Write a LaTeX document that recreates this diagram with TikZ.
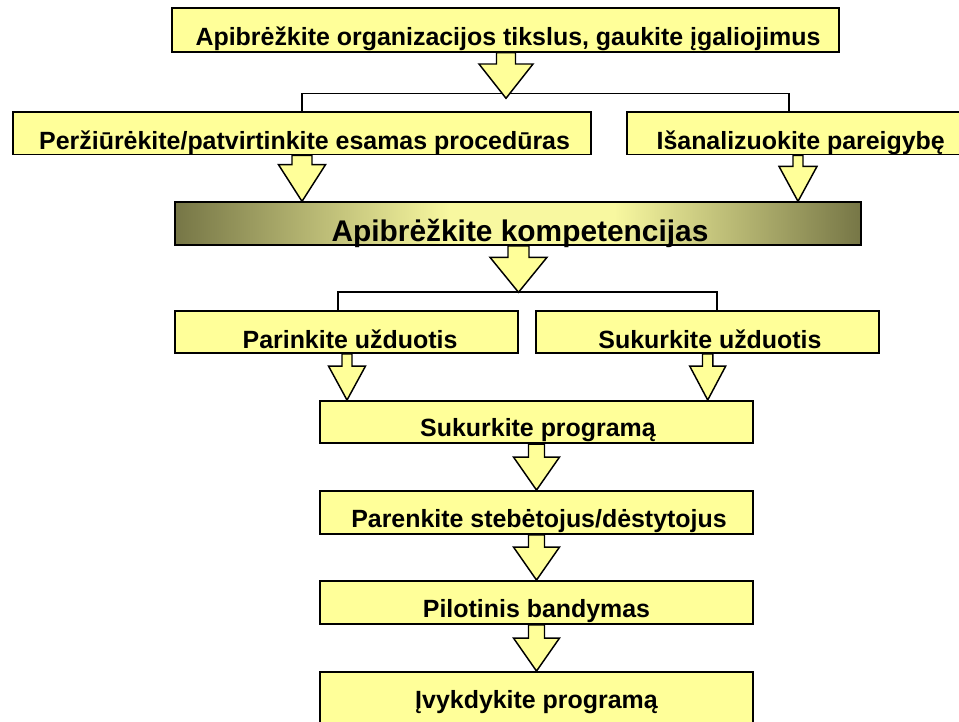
\documentclass[tikz,border=0pt]{standalone}
\usepackage{fontspec}
\setmainfont{Liberation Sans}
\usetikzlibrary{fit,calc}
\definecolor{boxyellow}{RGB}{255,255,153}
\definecolor{olivedk}{RGB}{118,118,70}
\definecolor{olivelt}{RGB}{248,248,160}
\pgfdeclarehorizontalshading{olivegrad}{100bp}{color(0bp)=(olivedk); color(25bp)=(olivedk); color(45bp)=(olivelt); color(57bp)=(olivelt); color(75bp)=(olivedk); color(100bp)=(olivedk)}
% #1 from node anchor, #2 to point, #3 x centre, #4 shaft half width, #5 head half width, #6 head length (px)
\newcommand\bkarrow[6]{%
  \draw[arr] let \p1=(#1), \p2=(#2) in
    ({(#3-#4)*0.75pt},\y1) -- ({(#3-#4)*0.75pt},{\y2+#6*0.75pt}) --
    ({(#3-#5)*0.75pt},{\y2+#6*0.75pt}) -- ({#3*0.75pt},\y2) --
    ({(#3+#5)*0.75pt},{\y2+#6*0.75pt}) -- ({(#3+#4)*0.75pt},{\y2+#6*0.75pt}) --
    ({(#3+#4)*0.75pt},\y1) -- cycle;}
\begin{document}
\begin{tikzpicture}[x=0.75pt,y=-0.75pt,
  box/.style={draw=black,line width=1.4pt,fill=boxyellow,inner sep=0pt},
  gbox/.style={draw=black,line width=1.4pt,shade,shading=olivegrad,shading angle=0,inner sep=0pt},
  lbl/.style={font=\bfseries\fontsize{18.7}{20}\selectfont,anchor=base,inner sep=0pt},
  biglbl/.style={font=\bfseries\fontsize{22.4}{24}\selectfont,anchor=base,inner sep=0pt},
  arr/.style={draw=black,line width=1.1pt,fill=boxyellow,line join=miter},
  bracket/.style={draw=black,line width=1.4pt}]
\useasboundingbox (0,0) rectangle (959,721);
\clip (0,0) rectangle (959,721);
% boxes
\node[box,fit={(172,8.3) (839,51.7)}] (b1) {};
\node[box,fit={(12.7,112) (590.7,154.5)}] (b2l) {};
\node[box,fit={(626.7,112) (975,154.5)}] (b2r) {};
\node[gbox,fit={(175,202.3) (861,245)}] (b3) {};
\node[box,fit={(175,310.7) (518.3,353)}] (b4l) {};
\node[box,fit={(536,310.7) (879,353)}] (b4r) {};
\node[box,fit={(320,401) (752.7,443.3)}] (b5) {};
\node[box,fit={(320,491) (752.7,534)}] (b6) {};
\node[box,fit={(320,581) (752.7,624)}] (b7) {};
\node[box,fit={(320,672) (752.7,740)}] (b8) {};
% junctions
\coordinate (j1) at (506,98.3);
\coordinate (k1l) at (301.7,93.5);
\coordinate (k1r) at (789,93.5);
\coordinate (j2) at (518.5,292.3);
\coordinate (k2l) at (337.7,292.3);
\coordinate (k2r) at (716.7,292.3);
% brackets
\draw[bracket] (k1l |- b2l.north) -- (k1l) -- (k1r) -- (k1r |- b2r.north);
\draw[bracket] (k2l |- b4l.north) -- (k2l) -- (k2r) -- (k2r |- b4r.north);
% block arrows
\bkarrow{b1.south}{j1}{506}{9.5}{27}{34.3}
\bkarrow{b2l.south}{b3.north}{302}{10}{23.5}{36.7}
\bkarrow{b2r.south}{b3.north}{798}{5}{19}{35}
\bkarrow{b3.south}{j2}{518.5}{10.5}{28.5}{35}
\bkarrow{b4l.south}{b5.north}{347}{5}{18.5}{34}
\bkarrow{b4r.south}{b5.north}{707.7}{5.2}{18}{34}
\bkarrow{b5.south}{b6.north}{536.5}{8}{23}{33}
\bkarrow{b6.south}{b7.north}{536.5}{8}{23}{33}
\bkarrow{b7.south}{b8.north}{536.5}{8}{23}{33}
% labels
\node[lbl] (t1) at (508,45) {Apibrėžkite organizacijos tikslus, gaukite įgaliojimus};
\node[lbl] (t2l) at (304.6,149) {Peržiūrėkite/patvirtinkite esamas procedūras};
\node[lbl] (t2r) at (800.7,149) {Išanalizuokite pareigybę};
\node[biglbl] (t3) at (520,241.7) {Apibrėžkite kompetencijas};
\node[lbl] (t4l) at (350,348.3) {Parinkite užduotis};
\node[lbl] (t4r) at (710,348.3) {Sukurkite užduotis};
\node[lbl] (t5) at (538,436) {Sukurkite programą};
\node[lbl] (t6) at (539,527) {Parenkite stebėtojus/dėstytojus};
\node[lbl] (t7) at (536.5,617) {Pilotinis bandymas};
\node[lbl] (t8) at (536.5,708) {Įvykdykite programą};
\end{tikzpicture}
\end{document}
